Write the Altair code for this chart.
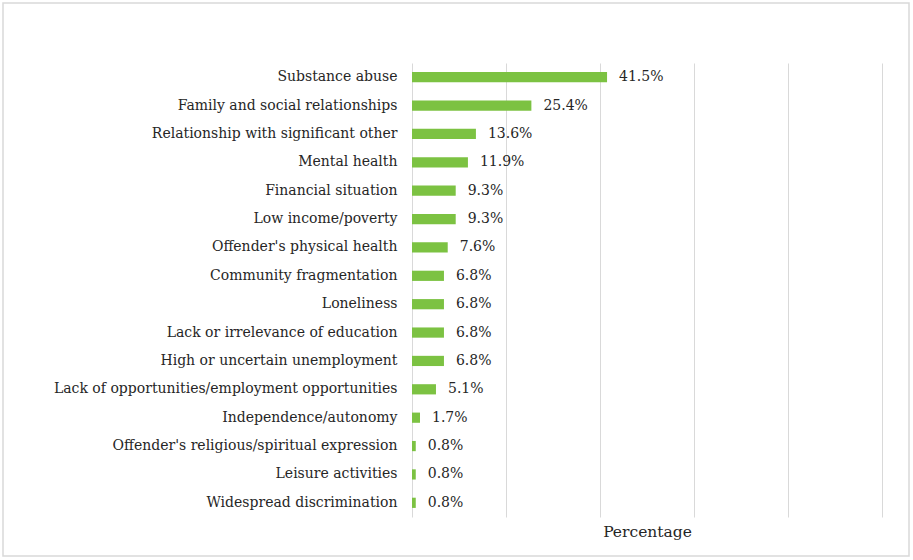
import altair as alt
import pandas as pd

categories = [
    "Substance abuse",
    "Family and social relationships",
    "Relationship with significant other",
    "Mental health",
    "Financial situation",
    "Low income/poverty",
    "Offender's physical health",
    "Community fragmentation",
    "Loneliness",
    "Lack or irrelevance of education",
    "High or uncertain unemployment",
    "Lack of opportunities/employment opportunities",
    "Independence/autonomy",
    "Offender's religious/spiritual expression",
    "Leisure activities",
    "Widespread discrimination",
]
values = [41.5, 25.4, 13.6, 11.9, 9.3, 9.3, 7.6, 6.8, 6.8, 6.8, 6.8, 5.1, 1.7, 0.8, 0.8, 0.8]
x_ticks = [0, 20, 40, 60, 80, 100]

df = pd.DataFrame({"category": categories, "value": values})
df["label"] = [f"{v:.1f}%" for v in values]

FONT = "DejaVu Serif"

x_enc = alt.X(
    "value:Q",
    scale=alt.Scale(domain=[0, 100], nice=False),
    axis=alt.Axis(
        values=x_ticks, labels=False, ticks=False, domain=False,
        grid=True, gridColor="#d9d9d9", gridWidth=1,
        title="Percentage", titleFont=FONT, titleFontSize=15.5,
        titleFontWeight="normal", titleColor="#262626", titlePadding=7,
    ),
)
y_enc = alt.Y(
    "category:N",
    sort=categories,
    scale=alt.Scale(paddingInner=0.64, paddingOuter=0.32),
    axis=alt.Axis(
        title=None, ticks=False, domain=False, labelFont=FONT,
        labelFontSize=14, labelColor="#262626", labelPadding=15,
        labelLimit=400,
    ),
)

base = alt.Chart(df)
bars = base.mark_bar(color="#7cc242").encode(x=x_enc, y=y_enc)
text = base.mark_text(
    align="left", baseline="middle", dx=12, font=FONT, fontSize=14, color="#262626"
).encode(x="value:Q", y=alt.Y("category:N", sort=categories), text="label:N")

border = alt.Chart(pd.DataFrame({"a": [0]})).mark_rect(
    fill=None, stroke="#d9d9d9", strokeWidth=1.5
).encode(
    x=alt.value(-409), x2=alt.value(497), y=alt.value(-60), y2=alt.value(493)
)

chart = alt.layer(bars, text, border).properties(
    width=470, height=454,
    autosize=alt.AutoSizeParams(type="none"),
    padding={"left": 412, "top": 63, "right": 31, "bottom": 43},
    background="white",
).configure_view(strokeOpacity=0, strokeWidth=0)

chart.save("out.html", embed_options={"renderer": "svg", "actions": False})
